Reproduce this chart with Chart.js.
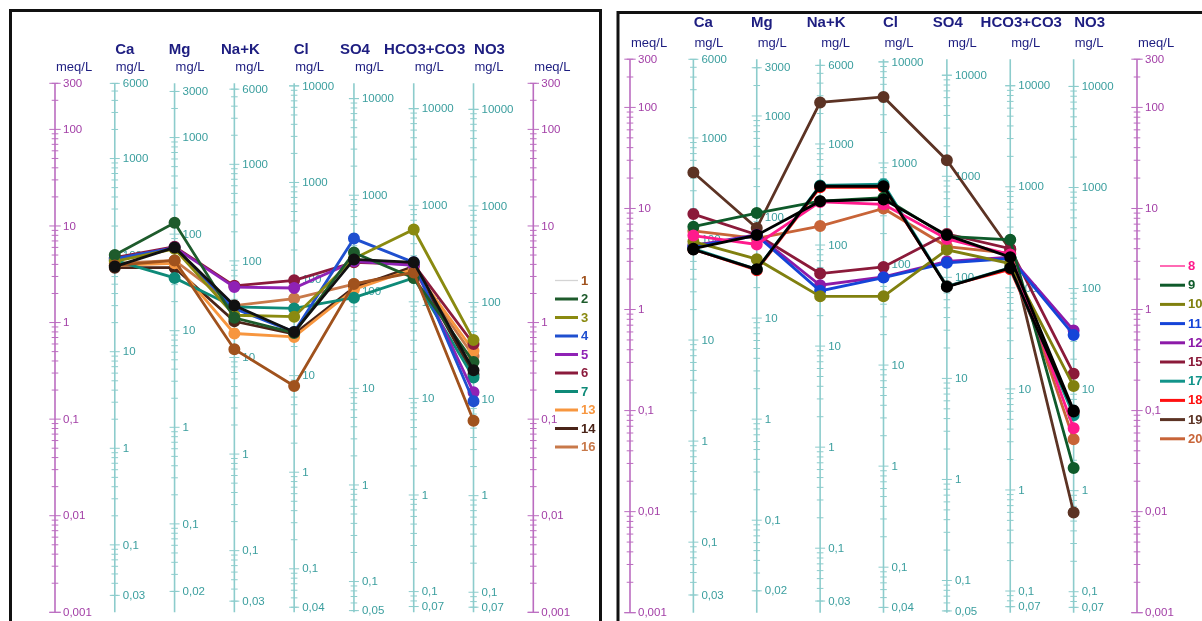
<!DOCTYPE html>
<html>
<head>
<meta charset="utf-8">
<script src="https://cdn.jsdelivr.net/npm/chart.js@4.4.0/dist/chart.umd.min.js"></script>
<style>
  body { margin: 0; background: #fff; width: 1202px; height: 621px; overflow: hidden; position: relative; }
  .panel { position: absolute; top: 0; height: 621px; }
  #left { left: 0; width: 602px; }
  #right { left: 602px; width: 600px; }
</style>
</head>
<body>
<div class="panel" id="left"><canvas id="leftChart" width="602" height="621"></canvas></div>
<div class="panel" id="right"><canvas id="rightChart" width="600" height="621"></canvas></div>
<script>
// Schoeller diagrams for two groups of water samples

// ions on the x axis and mg per meq for each one
const ions = ['Ca', 'Mg', 'Na+K', 'Cl', 'SO4', 'HCO3+CO3', 'NO3'];
const mgPerMeq = [20.04, 12.15, 23.0, 35.45, 48.03, 61.02, 62.0];

// meq/L range shared by every vertical axis
const meqRange = [0.001, 300];

// labelled end values of each mg/L axis
const mgTopLabels = [6000, 3000, 6000, 10000, 10000, 10000, 10000];
const mgBottomLabels = [0.03, 0.02, 0.03, 0.04, 0.05, 0.07, 0.07];

// left diagram, meq/L in ion order
const leftNames = ['1', '2', '3', '4', '5', '6', '7', '13', '14', '16', ''];
const sample1 = [3.9, 4.4, 0.53, 0.22, 2.5, 3.3, 0.096];
const sample2 = [5.0, 10.8, 1.12, 0.78, 5.3, 2.9, 0.39];
const sample3 = [4.3, 5.8, 1.19, 1.15, 4.6, 9.2, 0.66];
const sample4 = [4.6, 5.9, 1.4, 0.8, 7.4, 4.2, 0.153];
const sample5 = [4.5, 6.0, 2.33, 2.28, 4.3, 3.9, 0.19];
const sample6 = [4.7, 6.1, 2.4, 2.74, 4.2, 4.0, 0.6];
const sample7 = [4.4, 2.9, 1.45, 1.4, 1.81, 2.9, 0.27];
const sample13 = [3.9, 4.1, 0.77, 0.71, 2.2, 3.6, 0.51];
const sample14 = [3.7, 3.7, 1.03, 0.76, 2.3, 3.8, 0.29];
const sample16 = [4.1, 4.4, 1.5, 1.77, 2.5, 3.4, 0.45];
const leftUnlisted = [3.8, 6.0, 1.5, 0.8, 4.5, 4.2, 0.32];

// right diagram, meq/L in ion order
const rightNames = ['8', '9', '10', '11', '12', '15', '17', '18', '19', '20', '', ''];
const sample8 = [5.4, 4.4, 11.6, 11.0, 5.0, 3.5, 0.067];
const sample9 = [6.6, 9.0, 11.8, 12.8, 5.3, 4.9, 0.027];
const sample10 = [4.7, 3.15, 1.35, 1.35, 3.9, 2.85, 0.175];
const sample11 = [4.2, 5.4, 1.53, 2.07, 2.9, 3.2, 0.56];
const sample12 = [4.3, 5.5, 1.74, 2.1, 3.0, 3.3, 0.62];
const sample15 = [8.8, 5.5, 2.27, 2.64, 5.6, 4.0, 0.232];
const sample17 = [4.0, 2.5, 16.9, 17.4, 1.7, 2.6, 0.09];
const sample18 = [3.95, 2.45, 16.2, 16.2, 1.7, 2.5, 0.095];
const sample19 = [22.7, 6.4, 112, 127, 30, 3.9, 0.0098];
const sample20 = [6.0, 5.05, 6.7, 10.0, 4.2, 3.6, 0.052];
const rightUnlistedA = [3.93, 2.5, 16.6, 16.6, 1.68, 2.58, 0.098];
const rightUnlistedB = [4.0, 5.45, 11.8, 12.3, 5.45, 3.3, 0.1];

const leftColors = ['#a0521d', '#1e5b2c', '#8a8a10', '#1f4fcf', '#8f22b5', '#8b1b3c',
  '#0e8a78', '#f7963f', '#4a2418', '#c8794a', '#111111'];
const rightColors = ['#ff1a8c', '#0e5a2a', '#80800f', '#1544d8', '#8c1aa8', '#8b1a3a',
  '#12948a', '#ff1010', '#5c3324', '#c86438', '#000000', '#000000'];

const FONT = '"Liberation Sans", Arial, sans-serif';
const purpleLine = '#bb6cc0', purpleText = '#a23ea6';
const tealLine = '#8ccccc', tealText = '#3a9e9e';
const navy = '#1d1d80';
// where each ion name sits relative to its axis
const nameShift = [10, 5, 6, 7, 1, 11, 16];

function fmt(v) {
  return String(Number(v.toPrecision(3))).replace('.', ',');
}

function drawAxis(ctx, ys, x, factor, top, bottom, lineCol, textCol, majorLen) {
  const lo = meqRange[0] * factor, hi = meqRange[1] * factor;
  ctx.strokeStyle = lineCol;
  ctx.lineWidth = 1.6;
  ctx.beginPath();
  ctx.moveTo(x, ys.getPixelForValue(meqRange[1]));
  ctx.lineTo(x, ys.getPixelForValue(meqRange[0]));
  ctx.stroke();
  ctx.lineWidth = 1;
  const labels = new Map();
  const tick = (v, len) => {
    const y = ys.getPixelForValue(v / factor);
    ctx.beginPath();
    ctx.moveTo(x - len, y);
    ctx.lineTo(x + len, y);
    ctx.stroke();
    return y;
  };
  for (let e = Math.floor(Math.log10(lo)); e <= Math.ceil(Math.log10(hi)); e++) {
    for (let k = 1; k < 10; k++) {
      const v = k * Math.pow(10, e);
      if (v < lo * 0.999 || v > hi * 1.001) continue;
      const y = tick(v, k === 1 ? majorLen : 3.3);
      if (k === 1) labels.set(fmt(v), y);
    }
  }
  [top, bottom].forEach(v => labels.set(fmt(v), tick(v, majorLen)));
  ctx.fillStyle = textCol;
  ctx.font = '11.5px ' + FONT;
  ctx.textAlign = 'left';
  ctx.textBaseline = 'middle';
  labels.forEach((y, t) => ctx.fillText(t, x + 8, y + 0.5));
}

const schoeller = {
  id: 'schoeller',
  beforeDatasetsDraw(chart, args, o) {
    const ctx = chart.ctx, xs = chart.scales.x, ys = chart.scales.y;
    ctx.save();
    ctx.strokeStyle = '#111';
    ctx.lineWidth = 3;
    ctx.strokeRect(o.frame[0], o.frame[1], o.frame[2], o.frame[3]);

    const last = ions.length + 1;
    ctx.textBaseline = 'middle';
    // headers
    ctx.fillStyle = navy;
    ctx.textAlign = 'center';
    ctx.font = 'bold 15px ' + FONT;
    ions.forEach((ion, i) => ctx.fillText(ion, xs.getPixelForValue(i + 1) + nameShift[i], o.nameY));
    ctx.textAlign = 'left';
    ctx.font = '13px ' + FONT;
    for (let i = 0; i <= last; i++) {
      const unit = (i === 0 || i === last) ? 'meq/L' : 'mg/L';
      ctx.fillText(unit, xs.getPixelForValue(i) + 1, o.unitY);
    }
    // meq/L axes at both ends
    [0, last].forEach(i => drawAxis(ctx, ys, xs.getPixelForValue(i), 1, 300, 0.001,
      purpleLine, purpleText, 5.7));
    // one mg/L axis per ion
    ions.forEach((ion, i) => drawAxis(ctx, ys, xs.getPixelForValue(i + 1), mgPerMeq[i],
      mgTopLabels[i], mgBottomLabels[i], tealLine, tealText, 5));
    ctx.restore();
  },
  afterDatasetsDraw(chart, args, o) {
    const ctx = chart.ctx, lg = o.legend;
    ctx.save();
    ctx.textAlign = 'left';
    ctx.textBaseline = 'middle';
    ctx.font = 'bold 13px ' + FONT;
    let row = 0;
    chart.data.datasets.forEach((ds, i) => {
      if (!ds.label) return;
      const y = lg.y0 + row * lg.dy;
      ctx.strokeStyle = i === 0 ? o.firstLegendLine : ds.borderColor;
      ctx.lineWidth = i === 0 ? 1.3 : 3;
      ctx.beginPath();
      ctx.moveTo(lg.x1, y);
      ctx.lineTo(lg.x2, y);
      ctx.stroke();
      ctx.fillStyle = ds.borderColor;
      ctx.fillText(ds.label, lg.tx, y + 0.5);
      row++;
    });
    ctx.restore();
  }
};

function drawDiagram(canvasId, names, samples, colors, pad, opts) {
  const datasets = names.map((name, i) => ({
    label: name,
    data: [null, ...samples[i], null],
    borderColor: colors[i],
    backgroundColor: colors[i],
    pointBackgroundColor: colors[i],
    pointBorderColor: colors[i],
    borderWidth: 2.8,
    pointRadius: 4.6,
    order: name ? 0 : -1
  }));
  new Chart(document.getElementById(canvasId).getContext('2d'), {
    type: 'line',
    data: { labels: ['', ...ions, ''], datasets: datasets },
    options: {
      responsive: false, animation: false, devicePixelRatio: 1,
      layout: { padding: pad },
      scales: {
        x: { type: 'category', offset: false, display: false },
        y: { type: 'logarithmic', min: meqRange[0], max: meqRange[1], display: false }
      },
      plugins: { legend: { display: false }, tooltip: { enabled: false }, schoeller: opts }
    },
    plugins: [schoeller]
  });
}

drawDiagram('leftChart', leftNames,
  [sample1, sample2, sample3, sample4, sample5, sample6, sample7, sample13, sample14, sample16, leftUnlisted],
  leftColors, { left: 55, right: 68.7, top: 83.3, bottom: 8.7 },
  { frame: [10.5, 10.5, 590, 700], nameY: 49.5, unitY: 67, firstLegendLine: '#d4d4d4',
    legend: { x1: 555, x2: 578, tx: 581, y0: 280.5, dy: 18.5 } });

drawDiagram('rightChart', rightNames,
  [sample8, sample9, sample10, sample11, sample12, sample15, sample17, sample18, sample19, sample20,
    rightUnlistedA, rightUnlistedB],
  rightColors, { left: 28, right: 65, top: 59.2, bottom: 8.3 },
  { frame: [16, 12.5, 700, 700], nameY: 23, unitY: 43, firstLegendLine: '#ff1a8c',
    legend: { x1: 558, x2: 583, tx: 586, y0: 266, dy: 19.2 } });
</script>
</body>
</html>
